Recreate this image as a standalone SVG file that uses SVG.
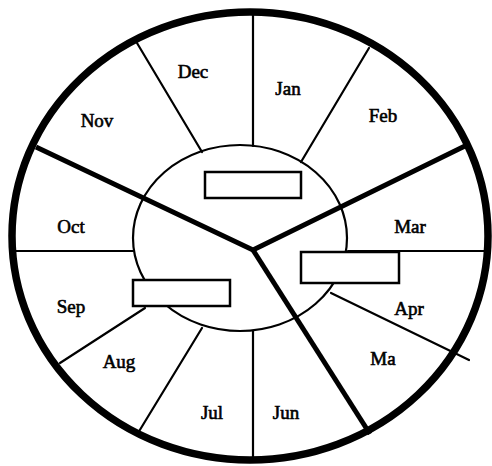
<svg xmlns="http://www.w3.org/2000/svg" width="492" height="466" viewBox="0 0 492 466">
<style>
.thin{stroke:#000;stroke-width:2.2;fill:none;stroke-linecap:round}
.thick{stroke:#000;stroke-width:5;fill:none;stroke-linecap:butt}
.box{fill:#fff;stroke:#000;stroke-width:2.5}
.lbl{font-family:"Liberation Serif","Times New Roman",serif;font-size:19px;fill:#000;text-anchor:middle;stroke:#000;stroke-width:0.6}
</style>
<rect width="492" height="466" fill="#fff"/>
<g id="connectors">
<ellipse cx="240" cy="238" rx="107" ry="93" class="thin"/>
<line x1="253" y1="13" x2="253" y2="146" class="thin"/>
<line x1="137" y1="43" x2="202" y2="152" class="thin"/>
<line x1="369" y1="48" x2="301" y2="162" class="thin"/>
<line x1="348" y1="251" x2="487" y2="251" class="thin"/>
<line x1="331" y1="293" x2="469" y2="360" class="thin"/>
<line x1="253" y1="331" x2="253" y2="459" class="thin"/>
<line x1="202" y1="328" x2="138" y2="433" class="thin"/>
<line x1="145" y1="308" x2="60" y2="363" class="thin"/>
<line x1="15" y1="251" x2="133" y2="251" class="thin"/>
<polyline points="36,147 253,250 467,145" class="thick" stroke-linejoin="miter"/>
<line x1="253" y1="250" x2="370" y2="434" class="thick"/>
<ellipse cx="250" cy="236" rx="238" ry="224" fill="none" stroke="#000" stroke-width="7.5"/>
</g>
<g id="box-top"><rect x="205" y="172" width="96" height="26" class="box"/></g>
<g id="box-right"><rect x="301" y="252" width="98" height="31" class="box"/></g>
<g id="box-left"><rect x="133" y="280" width="97" height="26" class="box"/></g>
<g id="jan"><text x="288" y="95" class="lbl">Jan</text></g>
<g id="feb"><text x="383" y="122" class="lbl">Feb</text></g>
<g id="mar"><text x="410" y="233" class="lbl">Mar</text></g>
<g id="apr"><text x="409" y="315" class="lbl">Apr</text></g>
<g id="may"><text x="383" y="365" class="lbl">Ma</text></g>
<g id="jun"><text x="286" y="419" class="lbl">Jun</text></g>
<g id="jul"><text x="212" y="419" class="lbl">Jul</text></g>
<g id="aug"><text x="119" y="368" class="lbl">Aug</text></g>
<g id="sep"><text x="71" y="313" class="lbl">Sep</text></g>
<g id="oct"><text x="71" y="233" class="lbl">Oct</text></g>
<g id="nov"><text x="97" y="127" class="lbl">Nov</text></g>
<g id="dec"><text x="193" y="78" class="lbl">Dec</text></g>
</svg>
